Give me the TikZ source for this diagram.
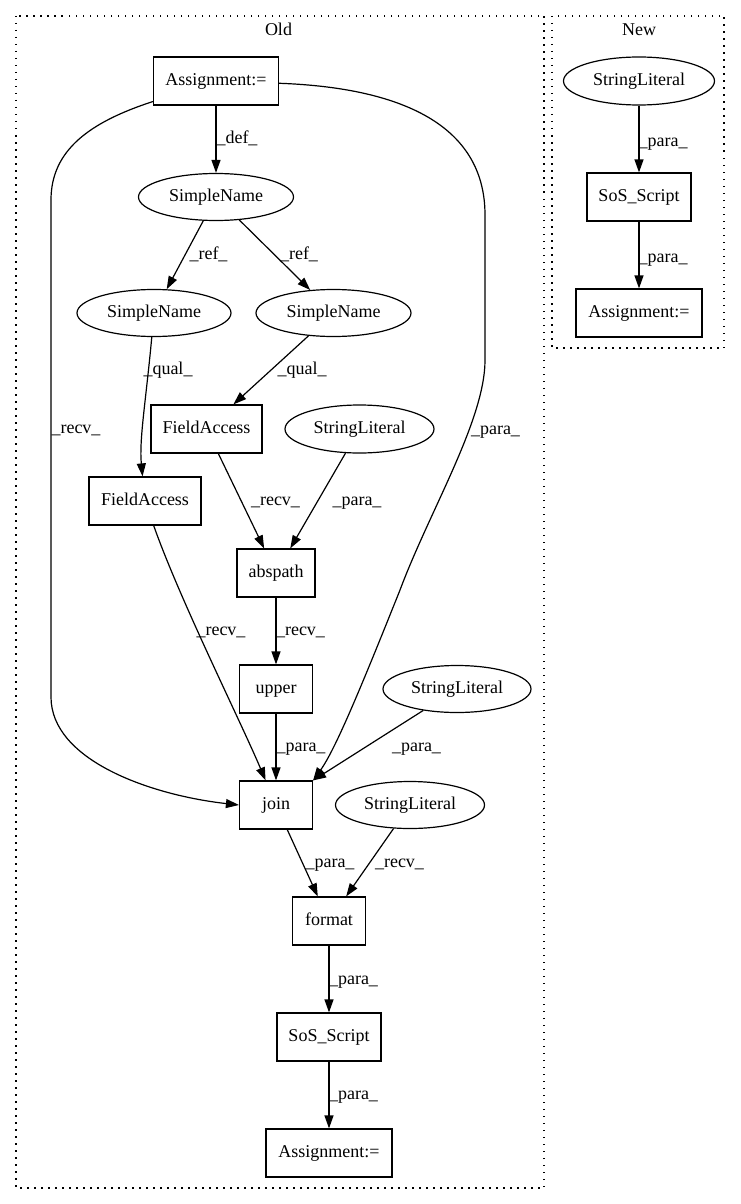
\documentclass[tikz,border=0pt]{standalone}
\usepackage{fontspec}
\setmainfont{Liberation Serif}
\usetikzlibrary{arrows.meta,shapes.geometric}
\begin{document}
\begin{tikzpicture}[x=1pt,y=-1pt,
  every node/.style={font=\fontsize{18}{20}\selectfont, text height=12.5pt, text depth=4pt, inner sep=0pt},
  boxnode/.style={draw, line width=1.2pt, rectangle, minimum height=48pt},
  ellnode/.style={draw, line width=1.2pt, ellipse, minimum height=47pt},
  conn/.style={line width=1.2pt, -{Triangle[length=13pt,width=9pt]}},
  cluster/.style={line width=1.3pt, dash pattern=on 1.5pt off 5.5pt}]
\useasboundingbox (0,0) rectangle (740,1204);
% clusters
\draw[cluster] (16,16) rectangle (544,1188);
\draw[cluster] (552,16) rectangle (724,348);
\node (told) at (278.5,31) {Old};
\node (tnew) at (639,31) {New};
% Old nodes
\node[boxnode, minimum width=125pt] (a1) at (216,81) {Assignment:=};
\node[ellnode, minimum width=155pt] (sn1) at (216,197) {SimpleName};
\node[ellnode, minimum width=154pt] (snL) at (154,313) {SimpleName};
\node[ellnode, minimum width=155pt] (snR) at (333.5,313) {SimpleName};
\node[boxnode, minimum width=111pt] (faR) at (206.5,429) {FieldAccess};
\node[ellnode, minimum width=149pt, minimum height=48pt] (sl4) at (359.5,429) {StringLiteral};
\node[boxnode, minimum width=112pt] (faL) at (145,501) {FieldAccess};
\node[boxnode, minimum width=78pt] (abs) at (276,573) {abspath};
\node[boxnode, minimum width=73pt] (up) at (276,689) {upper};
\node[ellnode, minimum width=148pt] (sl6) at (457,689) {StringLiteral};
\node[boxnode, minimum width=73pt] (join) at (276,805) {join};
\node[ellnode, minimum width=149pt] (sl7) at (410,805) {StringLiteral};
\node[boxnode, minimum width=73pt] (fmt) at (329,921) {format};
\node[boxnode, minimum width=104pt] (sos) at (329,1037) {SoS\_Script};
\node[boxnode, minimum width=126pt] (a2) at (329,1153) {Assignment:=};
% New nodes
\node[ellnode, minimum width=151pt, minimum height=48pt] (nsl) at (639,81) {StringLiteral};
\node[boxnode, minimum width=104pt] (nsos) at (639,197) {SoS\_Script};
\node[boxnode, minimum width=126pt] (na) at (639,313) {Assignment:=};
% Old edges
\draw[conn] (a1) -- (sn1);
\node (l1) at (237,139) {\_def\_};
\draw[conn] (sn1) -- (snL);
\node (l2) at (208.5,255) {\_ref\_};
\draw[conn] (sn1) -- (snR);
\node (l3) at (299,255) {\_ref\_};
\draw[conn] (snL) .. controls (146,400) and (139,440) .. (faL);
\node (l4) at (168,370) {\_qual\_};
\draw[conn] (snR) -- (faR);
\node (l5) at (302,370) {\_qual\_};
\draw[conn] (faR) -- (abs);
\node (l6) at (275.5,501) {\_recv\_};
\draw[conn] (sl4) -- (abs);
\node (l7) at (357,501) {\_para\_};
\draw[conn] (abs) -- (up);
\node (l8) at (300.5,631) {\_recv\_};
\draw[conn] (faL) .. controls (180,600) and (240,720) .. (join);
\node (l9) at (221,631) {\_recv\_};
\draw[conn] (up) -- (join);
\node (l10) at (301,747) {\_para\_};
\draw[conn] (sl6) -- (join.north east);
\node (l11) at (416.5,747) {\_para\_};
\draw[conn] (a1) .. controls (90,122) and (51,150) .. (51,200) -- (51,697)
  .. controls (51,760) and (150,795) .. (join.west);
\node (l12) at (76,429) {\_recv\_};
\draw[conn] (a1) .. controls (410,88) and (485,130) .. (485,215) -- (485,360)
  .. controls (485,420) and (430,510) .. (400,590)
  .. controls (360,690) and (335,750) .. (join.north east);
\node (l13) at (495.5,430) {\_para\_};
\draw[conn] (join) -- (fmt);
\node (l14) at (330,863) {\_para\_};
\draw[conn] (sl7) -- (fmt);
\node (l15) at (399.5,863) {\_recv\_};
\draw[conn] (fmt) -- (sos);
\node (l16) at (353.5,980) {\_para\_};
\draw[conn] (sos) -- (a2);
\node (l17) at (353.5,1095) {\_para\_};
% New edges
\draw[conn] (nsl) -- (nsos);
\node (l18) at (663,142) {\_para\_};
\draw[conn] (nsos) -- (na);
\node (l19) at (663,258) {\_para\_};
\end{tikzpicture}
\end{document}
